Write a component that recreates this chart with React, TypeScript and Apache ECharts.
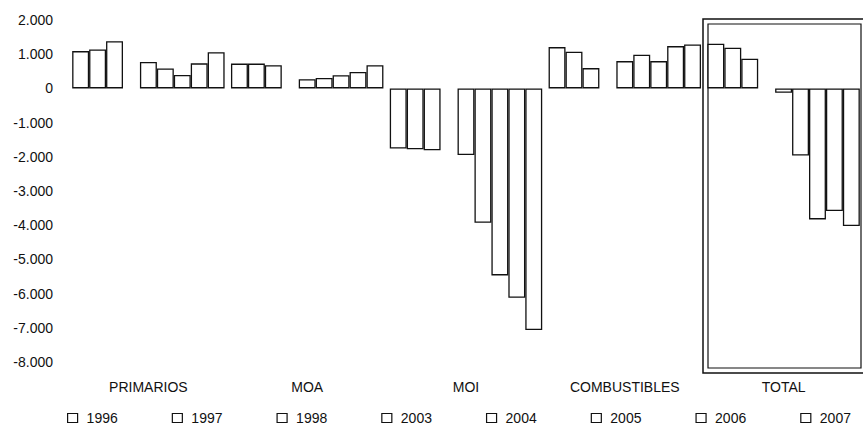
import React, { useEffect, useRef } from "react";
import * as echarts from "echarts";

const categories = ["PRIMARIOS", "MOA", "MOI", "COMBUSTIBLES", "TOTAL"];
const years = ["1996", "1997", "1998", "2003", "2004", "2005", "2006", "2007"];
const v1996 = [1090, 725, -1760, 1208, 1306];
const v1997 = [1140, 725, -1780, 1073, 1190];
const v1998 = [1380, 675, -1810, 594, 868];
const v2003 = [770, 270, -1950, 798, -126];
const v2004 = [580, 307, -3927, 985, -1960];
const v2005 = [395, 385, -5468, 798, -3830];
const v2006 = [733, 481, -6120, 1237, -3587];
const v2007 = [1060, 675, -7067, 1287, -4026];
const yTicks = { min: -8000, max: 2000, interval: 1000 };

const FONT = "Liberation Sans, Arial, sans-serif";

export default function App() {
  const ref = useRef<HTMLDivElement>(null);
  useEffect(() => {
    if (!ref.current) return;
    const chart = echarts.init(ref.current, null, { renderer: "svg" });
    const itemStyle = { color: "#ffffff", borderColor: "#111111", borderWidth: 1.3 };
    const mk = (name: string, data: number[]) => ({
      type: "bar",
      name,
      data,
      itemStyle,
      barGap: "0%",
      barCategoryGap: "4%",
      emphasis: { disabled: true },
    });
    const gap = {
      type: "bar",
      name: "__gap",
      data: categories.map(() => null),
      itemStyle: { color: "transparent", borderWidth: 0 },
      barGap: "0%",
      barCategoryGap: "4%",
    };
    const series = [
      mk("1996", v1996),
      mk("1997", v1997),
      mk("1998", v1998),
      gap,
      mk("2003", v2003),
      mk("2004", v2004),
      mk("2005", v2005),
      mk("2006", v2006),
      mk("2007", v2007),
    ];
    chart.setOption({
      animation: false,
      grid: { left: 69, right: 0, top: 20, bottom: 64 },
      xAxis: {
        type: "category",
        data: categories,
        axisLine: { show: false },
        axisTick: { show: false },
        axisLabel: { color: "#111", fontSize: 14, fontFamily: FONT, margin: 18 },
      },
      yAxis: {
        type: "value",
        min: yTicks.min,
        max: yTicks.max,
        interval: yTicks.interval,
        axisLine: { show: false },
        axisTick: { show: false },
        splitLine: { show: false },
        axisLabel: {
          color: "#111",
          fontSize: 14,
          fontFamily: FONT,
          margin: 16,
          formatter: (v: number) => {
            const s = Math.abs(v).toString().replace(/\B(?=(\d{3})+(?!\d))/g, ".");
            return (v < 0 ? "-" : "") + s;
          },
        },
      },
      legend: {
        data: years,
        left: 67,
        top: 411,
        width: 796,
        padding: 0,
        itemGap: 54,
        itemWidth: 10,
        itemHeight: 9,
        icon: "rect",
        itemStyle: { color: "#fff", borderColor: "#111", borderWidth: 1.2 },
        textStyle: { color: "#111", fontSize: 14, fontFamily: FONT, padding: [0, 0, 0, 4] },
        selectedMode: false,
      },
      graphic: [
        {
          type: "rect",
          shape: { x: 703, y: 19, width: 170, height: 354 },
          style: { fill: "none", stroke: "#111", lineWidth: 1.5 },
        },
        {
          type: "rect",
          shape: { x: 708, y: 24, width: 153, height: 344 },
          style: { fill: "none", stroke: "#111", lineWidth: 1.2 },
        },
      ],
      series,
    });
    return () => chart.dispose();
  }, []);
  return (
    <div
      ref={ref}
      style={{ position: "fixed", left: 0, top: 0, width: 863, height: 426, background: "#fff" }}
    />
  );
}
